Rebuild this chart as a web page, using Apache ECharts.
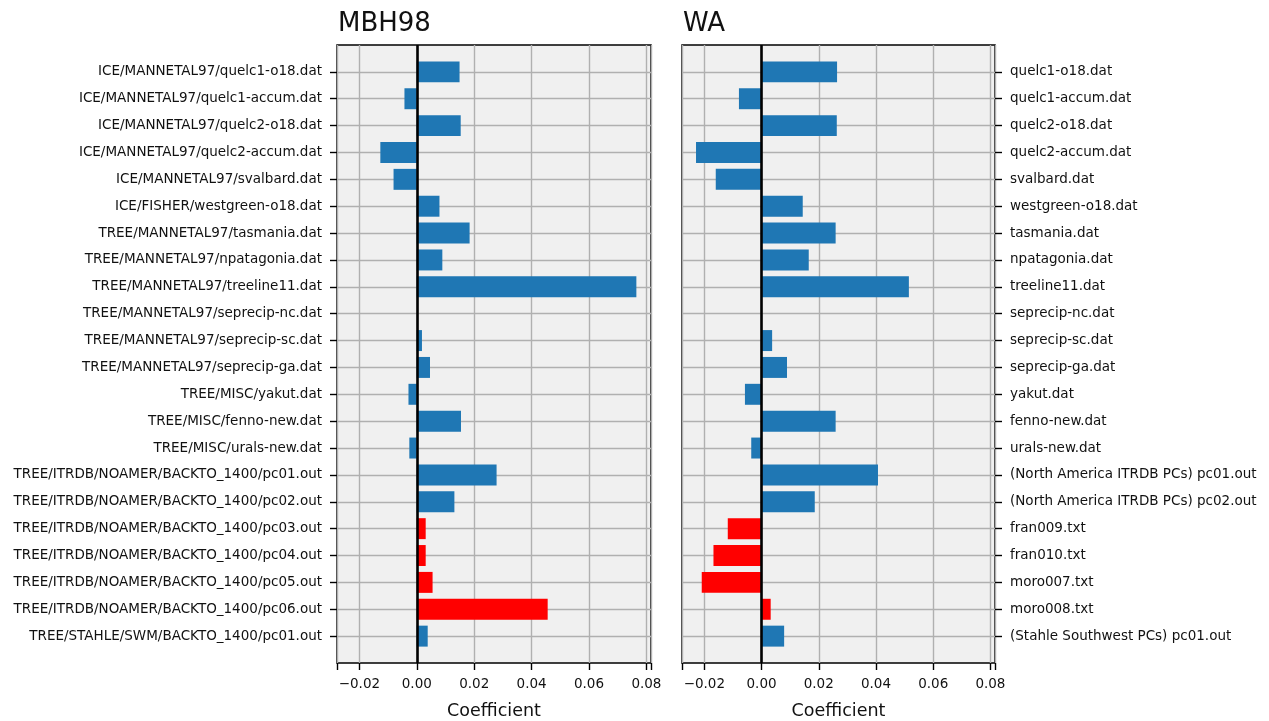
<!DOCTYPE html>
<html><head><meta charset="utf-8">
<script src="https://cdn.jsdelivr.net/npm/echarts@6.0.0/dist/echarts.min.js"></script>
<style>html,body{margin:0;padding:0;background:#fff}#c{width:1269px;height:721px}</style>
</head><body><div id="c"></div>
<script>
const leftLabels = [
  'ICE/MANNETAL97/quelc1-o18.dat','ICE/MANNETAL97/quelc1-accum.dat','ICE/MANNETAL97/quelc2-o18.dat',
  'ICE/MANNETAL97/quelc2-accum.dat','ICE/MANNETAL97/svalbard.dat','ICE/FISHER/westgreen-o18.dat',
  'TREE/MANNETAL97/tasmania.dat','TREE/MANNETAL97/npatagonia.dat','TREE/MANNETAL97/treeline11.dat',
  'TREE/MANNETAL97/seprecip-nc.dat','TREE/MANNETAL97/seprecip-sc.dat','TREE/MANNETAL97/seprecip-ga.dat',
  'TREE/MISC/yakut.dat','TREE/MISC/fenno-new.dat','TREE/MISC/urals-new.dat',
  'TREE/ITRDB/NOAMER/BACKTO_1400/pc01.out','TREE/ITRDB/NOAMER/BACKTO_1400/pc02.out',
  'TREE/ITRDB/NOAMER/BACKTO_1400/pc03.out','TREE/ITRDB/NOAMER/BACKTO_1400/pc04.out',
  'TREE/ITRDB/NOAMER/BACKTO_1400/pc05.out','TREE/ITRDB/NOAMER/BACKTO_1400/pc06.out',
  'TREE/STAHLE/SWM/BACKTO_1400/pc01.out'
];
const rightLabels = [
  'quelc1-o18.dat','quelc1-accum.dat','quelc2-o18.dat','quelc2-accum.dat','svalbard.dat',
  'westgreen-o18.dat','tasmania.dat','npatagonia.dat','treeline11.dat','seprecip-nc.dat',
  'seprecip-sc.dat','seprecip-ga.dat','yakut.dat','fenno-new.dat','urals-new.dat',
  '(North America ITRDB PCs) pc01.out','(North America ITRDB PCs) pc02.out',
  'fran009.txt','fran010.txt','moro007.txt','moro008.txt','(Stahle Southwest PCs) pc01.out'
];
const mbh98Values = [0.0149,-0.0043,0.0153,-0.0127,-0.0081,0.0079,0.0184,0.0089,0.0765,0.0,
  0.0018,0.0046,-0.0029,0.0154,-0.0026,0.0278,0.0131,0.0031,0.0031,0.0055,0.0456,0.0038];
const waValues = [0.0264,-0.0079,0.0263,-0.0229,-0.016,0.0144,0.0259,0.0165,0.0515,0.0,
  0.0037,0.0089,-0.0058,0.0259,-0.0036,0.0407,0.0186,-0.0118,-0.0168,-0.0209,0.0032,0.0079];
const redIndices = [17,18,19,20];
const xTickValues = [-0.02,0.00,0.02,0.04,0.06,0.08];
const titles = ['MBH98','WA'];
const xAxisName = 'Coefficient';

const BLUE = '#1f77b4', RED = '#ff0000';
const FONT = 'DejaVu Sans';
const isTick = v => xTickValues.some(t => Math.abs(t - v) < 1e-9);
const fmtX = v => {
  if (!isTick(v)) return '';
  const s = Math.abs(v).toFixed(2);
  return (v < -1e-12 ? '\u2212' : '') + s;
};
const realCat = (i, v) => v !== '';
function cats(labels){ return [''].concat(labels, ['']); }
function vals(values){ return ['-'].concat(values, ['-']); }

const grids = [
  {left: 337, top: 45, width: 314, height: 618},
  {left: 682, top: 45, width: 313, height: 618}
];
const xMin = -0.0278, xMax = 0.0816;

function xAxis(gi){
  return {
    type: 'value', gridIndex: gi, min: xMin, max: xMax, splitNumber: 5,
    name: xAxisName, nameLocation: 'middle', nameGap: 39,
    nameTextStyle: {fontFamily: FONT, fontSize: 17.5, color: '#111'},
    axisLine: {show: false, onZero: false},
    axisTick: {show: true, length: 7, lineStyle: {color: '#000', width: 1.4}},
    axisLabel: {formatter: fmtX, fontFamily: FONT, fontSize: 13.5, color: '#111', margin: 14,
      showMinLabel: true, showMaxLabel: true},
    splitLine: {show: true, lineStyle: {color: '#b0b0b0', width: 1.4}}
  };
}
function yAxis(gi, labels, pos){
  return {
    type: 'category', gridIndex: gi, data: cats(labels), inverse: true, boundaryGap: false,
    position: pos,
    axisLine: {show: false, onZero: false},
    axisTick: {show: true, length: 7, interval: realCat, lineStyle: {color: '#000', width: 1.4}},
    axisLabel: {interval: realCat, fontFamily: FONT, fontSize: 13.5, color: '#111', margin: 15},
    splitLine: {show: true, interval: realCat, lineStyle: {color: '#b0b0b0', width: 1.4}}
  };
}
function series(gi, values){
  return {
    type: 'bar', xAxisIndex: gi, yAxisIndex: gi, data: vals(values), barWidth: '78%',
    itemStyle: {color: p => redIndices.indexOf(p.dataIndex - 1) >= 0 ? RED : BLUE},
    markLine: {silent: true, symbol: 'none', label: {show: false},
      lineStyle: {color: '#000', width: 2.6, type: 'solid'}, data: [{xAxis: 0}], animation: false}
  };
}

const chart = echarts.init(document.getElementById('c'));
chart.setOption({
  animation: false,
  backgroundColor: '#fff',
  title: [
    {text: titles[0], left: 338, top: 11, textStyle: {fontFamily: FONT, fontSize: 26, fontWeight: 'normal', color: '#111'}, padding: 0},
    {text: titles[1], left: 683, top: 11, textStyle: {fontFamily: FONT, fontSize: 26, fontWeight: 'normal', color: '#111'}, padding: 0}
  ],
  grid: grids.map(g => Object.assign({show: true, backgroundColor: '#f0f0f0', borderColor: '#000', borderWidth: 1.5,
    containLabel: false, outerBoundsMode: 'none'}, g)),
  xAxis: [xAxis(0), xAxis(1)],
  yAxis: [yAxis(0, leftLabels, 'left'), yAxis(1, rightLabels, 'right')],
  series: [series(0, mbh98Values), series(1, waValues)]
});
</script></body></html>
